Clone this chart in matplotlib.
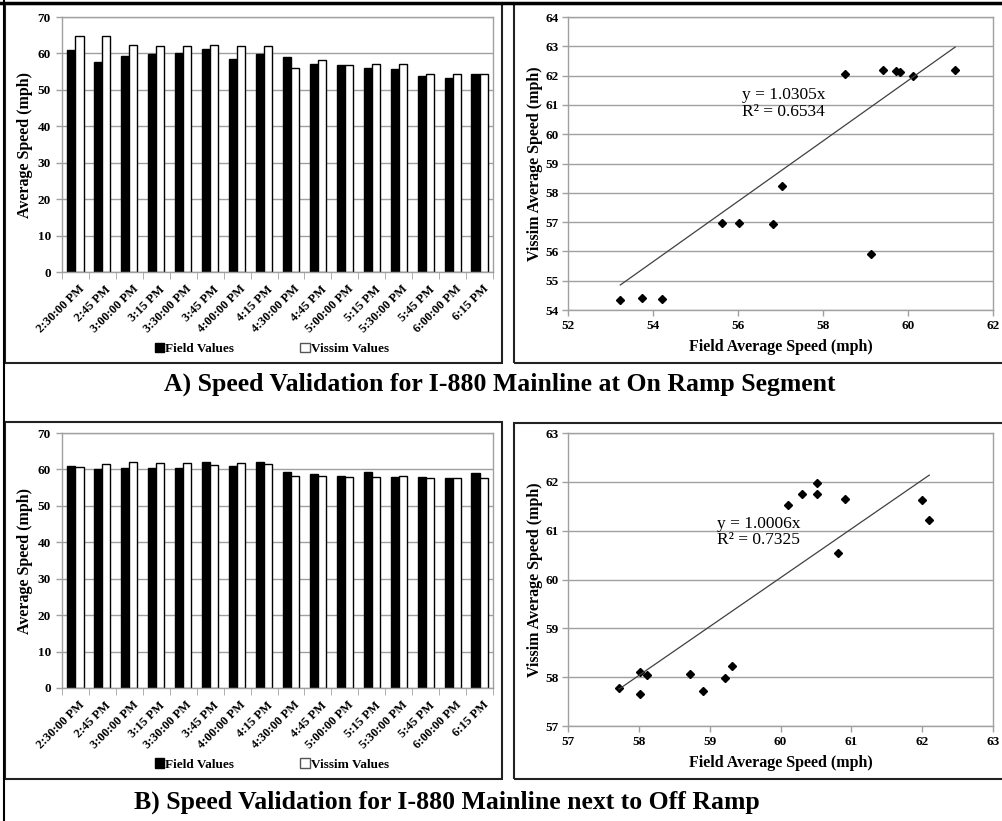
import numpy as np
import matplotlib
matplotlib.use('Agg')
import matplotlib.pyplot as plt
from matplotlib.patches import Patch, Rectangle
from matplotlib.lines import Line2D

#------------------------------ Datos -----------------------------------------
horas = ["2:30:00 PM", "2:45 PM", "3:00:00 PM", "3:15 PM", "3:30:00 PM", "3:45 PM",
         "4:00:00 PM", "4:15 PM", "4:30:00 PM", "4:45 PM", "5:00:00 PM", "5:15 PM",
         "5:30:00 PM", "5:45 PM", "6:00:00 PM", "6:15 PM"]

# A) On Ramp Segment
campo_A = [61.0, 57.7, 59.41, 59.71, 60.11, 61.11, 58.52, 59.82,
           59.12, 57.03, 56.82, 56.02, 55.63, 53.73, 53.23, 54.22]
vissim_A = [64.7, 64.9, 62.18, 62.16, 61.98, 62.18, 62.06, 62.13,
            55.92, 58.23, 56.94, 56.98, 56.98, 54.42, 54.34, 54.39]
pendiente_A = 1.0305
r2_A = 0.6534

# B) next to Off Ramp
campo_B = [60.81, 60.11, 60.51, 60.51, 60.31, 62.10, 60.91, 62.00,
           59.31, 58.72, 58.12, 59.21, 58.01, 58.01, 57.72, 58.91]
vissim_B = [60.55, 61.52, 61.97, 61.75, 61.75, 61.22, 61.64, 61.62,
            58.23, 58.07, 58.05, 57.99, 58.10, 57.66, 57.78, 57.71]
pendiente_B = 1.0006
r2_B = 0.7325

titulo_A = "A) Speed Validation for I-880 Mainline at On Ramp Segment"
titulo_B = "B) Speed Validation for I-880 Mainline next to Off Ramp"
#------------------------------------------------------------------------------

plt.rcParams['font.family'] = ['Liberation Serif', 'DejaVu Serif']
GRIS = '#a0a0a0'
W, H = 1002, 821
fig = plt.figure(figsize=(W / 100, H / 100), dpi=100)


def ejes(x0, y0, x1, y1):
    # caja en pixeles (origen arriba a la izquierda)
    return fig.add_axes([x0 / W, 1 - y1 / H, (x1 - x0) / W, (y1 - y0) / H])


def caja(x0, y0, x1, y1, lw=1.5):
    fig.add_artist(Rectangle((x0 / W, 1 - y1 / H), (x1 - x0) / W, (y1 - y0) / H,
                             transform=fig.transFigure, fill=False, ec='#222222', lw=lw))


def estilo(ax):
    for s in ax.spines.values():
        s.set_color(GRIS)
        s.set_linewidth(1)
    ax.tick_params(colors=GRIS, labelcolor='black', labelsize=9.5, length=4, width=1)
    for t in ax.get_xticklabels() + ax.get_yticklabels():
        t.set_fontweight('bold')
    ax.set_axisbelow(True)


#------------------------------ Barras ----------------------------------------
def barras(ax, campo, vissim, y_leyenda):
    x = np.arange(len(horas))
    ax.bar(x - 0.15, campo, 0.3, color='black', edgecolor='black', lw=1)
    ax.bar(x + 0.15, vissim, 0.3, color='white', edgecolor='black', lw=1)
    ax.set_xlim(-0.5, len(horas) - 0.5)
    ax.set_ylim(0, 70)
    ax.set_yticks(np.arange(0, 71, 10))
    ax.grid(axis='y', color=GRIS, lw=1)
    ax.set_xticks(x + 0.1)
    ax.set_xticklabels(horas, rotation=45, ha='right', va='top', rotation_mode='anchor')
    ax.set_xticks(np.arange(-0.5, len(horas), 1), minor=True)
    estilo(ax)
    ax.tick_params(axis='x', which='major', length=0, pad=8, labelsize=9)
    ax.tick_params(axis='x', which='minor', length=5, color=GRIS)
    ax.tick_params(axis='y', pad=4)
    ax.set_ylabel('Average Speed (mph)', fontsize=11.5, fontweight='bold')
    ax.yaxis.set_label_coords(-0.067, 0.5)
    manejadores = [Patch(fc='black', ec='black', label='Field Values'),
                   Patch(fc='white', ec='#555555', label='Vissim Values')]
    ax.legend(handles=manejadores, loc='center', bbox_to_anchor=(0.487, y_leyenda),
              ncol=2, frameon=False, handlelength=0.7, handleheight=0.7,
              handletextpad=0.1, columnspacing=5.0,
              prop={'weight': 'bold', 'size': 9.5})


#------------------------------ Dispersion ------------------------------------
def dispersion(ax, campo, vissim, pendiente, r2, xlims, ylims, paso, pos_texto):
    ax.plot(campo, vissim, 'D', color='black', ms=4.5, ls='none')
    xs = np.array([min(campo), max(campo)])
    ax.plot(xs, pendiente * xs, color='#404040', lw=0.9)
    ax.set_xlim(xlims)
    ax.set_ylim(ylims)
    ax.set_xticks(np.arange(xlims[0], xlims[1] + 0.1, paso))
    ax.set_yticks(np.arange(ylims[0], ylims[1] + 0.1, 1))
    ax.grid(axis='y', color=GRIS, lw=1)
    estilo(ax)
    ax.tick_params(axis='x', pad=3)
    ax.tick_params(axis='y', pad=3)
    ax.text(pos_texto[0], pos_texto[1], 'y = %.4fx\nR² = %.4f' % (pendiente, r2),
            fontsize=12.5, va='center', ha='left', linespacing=1.05)
    ax.set_xlabel('Field Average Speed (mph)', fontsize=11.5, fontweight='bold')
    ax.xaxis.set_label_coords(0.5, -0.1)
    ax.set_ylabel('Vissim Average Speed (mph)', fontsize=11.5, fontweight='bold')
    ax.yaxis.set_label_coords(-0.059, 0.5)


ax1 = ejes(62, 17, 493, 272)
barras(ax1, campo_A, vissim_A, -0.302)
ax2 = ejes(568, 17, 993, 310)
dispersion(ax2, campo_A, vissim_A, pendiente_A, r2_A, (52, 62), (54, 64), 2, (56.09, 61.05))

ax3 = ejes(62, 433, 493, 688)
barras(ax3, campo_B, vissim_B, -0.30)
ax4 = ejes(568, 433, 993, 726)
dispersion(ax4, campo_B, vissim_B, pendiente_B, r2_B, (57, 63), (57, 63), 1, (59.10, 60.97))

#------------------------------ Marcos y titulos ------------------------------
caja(5, 4, 502, 363)
caja(514, 4, 1010, 363)
caja(5, 422, 502, 779)
caja(514, 423, 1010, 779)
fig.add_artist(Line2D([0, 1], [1 - 3.5 / H, 1 - 3.5 / H], transform=fig.transFigure,
                      color='black', lw=2.5))
fig.add_artist(Line2D([4 / W, 4 / W], [0, 1], transform=fig.transFigure,
                      color='black', lw=1.5))
fig.text(500 / W, 1 - 384 / H, titulo_A, ha='center', va='center',
         fontsize=18.5, fontweight='bold')
fig.text(447 / W, 1 - 802 / H, titulo_B, ha='center', va='center',
         fontsize=18.5, fontweight='bold')

fig.savefig('out.png', dpi=100)
